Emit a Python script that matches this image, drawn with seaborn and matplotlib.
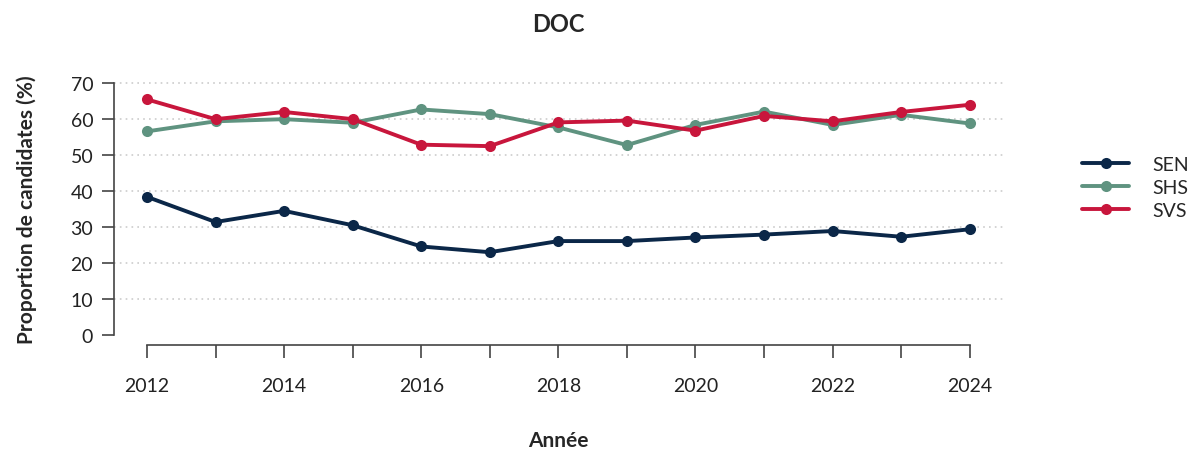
import pandas as pd
import numpy as np
import matplotlib.pyplot as plt
import seaborn as sns

years = list(range(2012, 2025))
sen = [38.4, 31.4, 34.5, 30.5, 24.6, 23.0, 26.1, 26.1, 27.1, 27.9, 28.9, 27.3, 29.4]
shs = [56.6, 59.4, 60.0, 59.0, 62.7, 61.4, 57.7, 52.8, 58.4, 62.1, 58.4, 61.2, 58.8]
svs = [65.5, 60.0, 62.0, 60.0, 52.9, 52.5, 59.1, 59.6, 56.8, 60.9, 59.4, 62.0, 64.0]
groups = ["SEN", "SHS", "SVS"]
colors = {"SEN": "#0b2748", "SHS": "#5f9380", "SVS": "#c8163c"}

df = pd.DataFrame({
    "Année": years * 3,
    "value": sen + shs + svs,
    "group": [g for g in groups for _ in years],
})

sns.set_style("white")
plt.rcParams['font.family'] = ['Lato', 'DejaVu Sans']

fig = plt.figure(figsize=(11.88, 4.52), dpi=100)
ax = fig.add_axes([0.096, 0.2345, 0.748, 0.6015])

for y in range(10, 80, 10):
    ax.axhline(y, color="#cccccc", lw=1.2, ls=(0, (1, 2.5)), zorder=0)

sns.lineplot(data=df, x="Année", y="value", hue="group", palette=colors,
             marker="o", markersize=8, markeredgewidth=0, linewidth=2.8, ax=ax)

ax.set_xlim(2012 - 0.48, 2024 + 0.48)
ax.set_ylim(-2.8, 72.8)
ax.set_xticks(range(2012, 2025))
ax.set_xticklabels([str(y) if y % 2 == 0 else "" for y in range(2012, 2025)])
ax.set_yticks(range(0, 80, 10))

for s in ["top", "right"]:
    ax.spines[s].set_visible(False)
ax.spines["left"].set_bounds(0, 70)
ax.spines["bottom"].set_bounds(2012, 2024)
ax.spines["left"].set_color("#444444")
ax.spines["bottom"].set_color("#444444")
ax.spines["left"].set_linewidth(1.2)
ax.spines["bottom"].set_linewidth(1.2)
ax.tick_params(axis="both", bottom=True, left=True, direction="out", length=9,
               width=1.2, color="#444444", labelsize=14, labelcolor="#222222")
ax.tick_params(axis="x", pad=14)
ax.tick_params(axis="y", pad=6)

ax.set_title("DOC", fontsize=17, fontweight="bold", pad=30)
ax.set_xlabel("Année", fontsize=15, fontweight="bold", labelpad=26)
ax.set_ylabel("Proportion de candidates (%)", fontsize=15, fontweight="bold", labelpad=24)

leg = ax.legend(loc="center left", bbox_to_anchor=(1.07, 0.58), frameon=False,
                fontsize=14, handlelength=2.4, handletextpad=1.2, labelspacing=0.3,
                title=None)
for line in leg.get_lines():
    line.set_linewidth(2.8)

fig.savefig("out.png", dpi=100)
